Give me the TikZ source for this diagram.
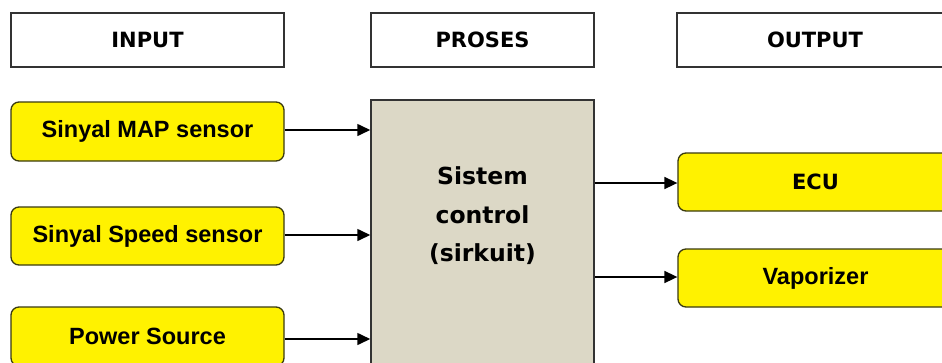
\documentclass[tikz,border=0pt]{standalone}
\usepackage{fontspec}
\setmainfont{Liberation Sans}
\newfontfamily\dvs{DejaVu Sans}
\usetikzlibrary{arrows.meta}
\definecolor{boxline}{HTML}{333333}
\definecolor{yline}{HTML}{3A3A10}
\definecolor{ctrlfill}{HTML}{DCD8C6}
\tikzset{
  header/.style={draw=boxline, line width=1.8pt, fill=white, minimum width=#1, minimum height=54pt, inner sep=0pt,
    font=\dvs\bfseries\fontsize{21}{25}\selectfont},
  ybox/.style={draw=yline, line width=1.3pt, fill=yellow, rounded corners=8pt, minimum width=#1, minimum height=58pt, inner sep=0pt,
    font=\bfseries\fontsize{23.5}{28}\selectfont},
  ctrl/.style={draw=boxline, line width=1.5pt, fill=ctrlfill, minimum width=223pt, minimum height=270pt, inner sep=0pt},
  conn/.style={line width=1.6pt, -{Triangle[length=13pt,width=12pt]}}
}
\begin{document}
\begin{tikzpicture}[x=1pt,y=-1pt]
\useasboundingbox (0,0) rectangle (942,362);
\fill[white] (0,0) rectangle (942,362);
% headers
\node[header=273pt] (hin) at (147.5,40) {INPUT};
\node[header=223pt] (hpr) at (482.5,40) {PROSES};
\node[header=276pt] (hout) at (815,40) {OUTPUT};
% control box
\node[ctrl] (ctrl) at (482.5,235) {};
\node[font=\dvs\bfseries\fontsize{23.5}{38.5}\selectfont, align=center, inner sep=0pt] (ctrltxt) at (482.5,216) {Sistem\\control\\(sirkuit)};
% inputs
\node[ybox=273pt, minimum height=59pt] (map) at (147.5,131.5) {Sinyal MAP sensor};
\node[ybox=273pt] (speed) at (147.5,236) {Sinyal Speed sensor};
\node[ybox=273pt, minimum height=59pt] (power) at (147.5,336.5) {Power Source};
% outputs
\node[ybox=275pt, font=\dvs\bfseries\fontsize{21}{25}\selectfont] (ecu) at (815.5,182) {ECU};
\node[ybox=275pt] (vap) at (815.5,278) {Vaporizer};
% connectors
\coordinate (mapin) at (ctrl.west |- 0,130);
\coordinate (spdin) at (ctrl.west |- 0,235);
\coordinate (powin) at (ctrl.west |- 0,339);
\draw[conn] (map.east |- mapin) -- (mapin);
\draw[conn] (speed.east |- spdin) -- (spdin);
\draw[conn] (power.east |- powin) -- (powin);
\coordinate (ecuout) at (ctrl.east |- 0,183);
\coordinate (vapout) at (ctrl.east |- 0,277);
\draw[conn] (ecuout) -- (ecu.west |- ecuout);
\draw[conn] (vapout) -- (vap.west |- vapout);
\end{tikzpicture}
\end{document}
